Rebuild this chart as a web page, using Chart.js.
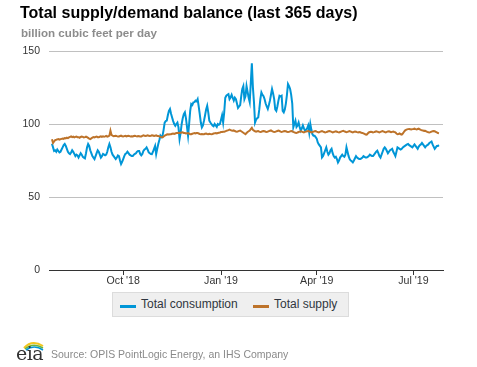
<!DOCTYPE html>
<html>
<head>
<meta charset="utf-8">
<script src="https://cdn.jsdelivr.net/npm/chart.js@4/dist/chart.umd.min.js"></script>
<style>
  html, body { margin: 0; padding: 0; background: #fff; }
  body { width: 477px; height: 367px; position: relative; overflow: hidden; font-family: "Liberation Sans", Arial, sans-serif; }
  #wrap { position: absolute; left: 0; top: 0; width: 477px; height: 367px; }
  #title { position: absolute; left: 20px; top: 4px; font-size: 16px; font-weight: bold; color: #000; white-space: nowrap; }
  #sub { position: absolute; left: 21px; top: 26px; font-size: 11.6px; font-weight: bold; color: #8c8c8c; white-space: nowrap; }
  #legend { position: absolute; left: 112px; top: 292px; width: 235px; height: 23px; background: #efefef; border: 1px solid #dcdcdc; }
  .li { position: absolute; top: 4px; font-size: 12px; color: #2f3640; white-space: nowrap; line-height: 15px; }
  .sw { position: absolute; top: 12px; height: 3px; width: 16px; }
  #src { position: absolute; left: 51px; top: 348px; font-size: 10.5px; color: #8a8a8a; white-space: nowrap; }
  #logo { position: absolute; left: 12px; top: 337px; width: 34px; height: 28px; }
  #logotext { position: absolute; left: 16px; top: 343px; font-family: "DejaVu Serif", "Liberation Serif", serif; font-size: 19px; color: #333; letter-spacing: -0.5px; line-height: 20px; }
</style>
</head>
<body>
<div id="wrap"><canvas id="c" width="477" height="367"></canvas></div>
<div id="title">Total supply/demand balance (last 365 days)</div>
<div id="sub">billion cubic feet per day</div>
<div id="legend">
  <div class="sw" style="left:7px;background:#0096d7"></div>
  <div class="li" style="left:28px">Total consumption</div>
  <div class="sw" style="left:140px;background:#bd732a"></div>
  <div class="li" style="left:161px">Total supply</div>
</div>
<svg id="logo" viewBox="0 0 34 28">
  <path d="M12 11 Q20 2 31 9" stroke="#f2c61f" stroke-width="2" fill="none"/>
  <path d="M13 12 Q21 5 31 11" stroke="#6cb33e" stroke-width="1.6" fill="none"/>
  <path d="M14 13 Q22 7 31 13" stroke="#0096d7" stroke-width="1.6" fill="none"/>
</svg>
<div id="logotext">eia</div>
<div id="src">Source: OPIS PointLogic Energy, an IHS Company</div>
<script>
// Day index 0 = Jul 26, 2018 (daily data, 365 days)
const tickDays = [67, 159, 249, 340];
const tickLabels = ["Oct '18", "Jan '19", "Apr '19", "Jul '19"];
const yTicks = [0, 50, 100, 150];

const consumption = [
  86.5, 84, 81.5, 82, 81, 82.5, 81.5, 80.5, 81, 82.5,
  84, 85.5, 86.3, 85, 83, 81, 80, 79.4, 80.5, 82,
  81, 79.5, 78, 79, 78.5, 77, 78.5, 80, 79, 77.5,
  77, 76.5, 80, 84, 86.3, 85, 82, 80, 78, 77,
  76, 78, 80, 82, 81, 79, 77, 78, 79.5, 79,
  78.5, 79, 81, 84, 86.3, 84, 81, 79, 78, 77,
  76, 77, 78.5, 78, 75, 72.6, 74, 76, 78, 79.5,
  80, 81, 80, 79, 78.5, 78, 78, 79, 79.5, 80,
  81, 81.5, 81.5, 79.5, 78.5, 79.5, 81.5, 82.5, 83, 84,
  82.5, 80.6, 80, 79.5, 79.4, 81, 83, 85, 79.4, 83,
  86.3, 89, 92, 91, 92, 96, 101, 102, 102.3, 106,
  109, 110.3, 107, 104.5, 102, 100, 98.8, 100, 101, 97.7,
  89.7, 94, 100, 104, 106.8, 108, 104, 98, 92, 100,
  109, 113.7, 113, 114.8, 115, 116, 115.5, 117, 112, 106.8,
  101, 97.7, 99, 102.3, 106, 110, 112.5, 108, 102.3, 101,
  100, 99, 98.5, 100, 99, 98, 100, 99.5, 100, 103,
  106, 101, 108, 118, 119.4, 120, 120.5, 117, 118.2, 120,
  118, 116, 118, 117, 114, 111, 112, 113, 119, 124,
  126, 117, 119, 126, 122, 118, 115, 128, 141.5, 125,
  115, 101, 103, 104, 104.5, 110, 117, 121.6, 120, 119,
  117, 114, 112, 110.3, 113, 116, 120, 124, 121, 117,
  110, 109, 112, 116, 119.4, 119, 119.4, 109, 108, 110,
  114, 120, 127.4, 126, 124, 120, 114, 97.7, 100, 102.3,
  98, 99, 101, 98, 95.4, 97, 99, 97, 95.4, 96,
  97, 99, 94, 100, 96, 93, 92, 92, 91, 90,
  87.4, 86, 85, 84, 77.1, 78, 80, 82, 84, 81,
  79, 80, 82, 83, 80, 78, 77, 77.5, 76, 73.7,
  75, 77, 78, 79, 78, 77.5, 79, 84, 81, 78,
  76, 75, 74.5, 73.7, 75, 76.5, 78, 77, 76.5, 76,
  76, 76.5, 77, 78, 77.5, 77, 77, 77.5, 78, 79,
  78.5, 78, 78, 79, 80, 81, 81.7, 80, 78, 77,
  79, 81, 83, 84, 83, 81.5, 80, 81, 82, 82.5,
  83, 81, 79.5, 78, 81, 84, 83.5, 83, 82.5, 83,
  84, 84.5, 85, 85.5, 86, 86.3, 85.5, 85, 84.5, 84,
  85, 86, 85, 84, 83, 84.5, 85.5, 86, 87, 86,
  85, 84, 85, 85.5, 86, 87, 87.5, 88, 86, 84.5,
  83, 84, 85, 85, 85.5
];

const supply = [
  89.5, 87, 88, 89, 89.2, 89.5, 89.7, 89.3, 89.6, 89.8,
  90, 89.8, 90.4, 90.2, 90.6, 90.3, 90.8, 91.2, 91.5, 91,
  91.3, 90.8, 91.2, 91.4, 91, 91, 90.6, 91.1, 91.4, 91.2,
  90.8, 91, 91.3, 91, 90.5, 90, 89.7, 90.2, 90.6, 91,
  90.8, 91.2, 91.4, 91, 91, 91.3, 91.6, 91.2, 91.5, 91.3,
  91.5, 91.8, 91.4, 91.6, 92, 95.4, 92.5, 92, 91.6, 91.8,
  92, 91.7, 91.5, 91.5, 91.8, 92, 91.6, 91.4, 91.7, 91.9,
  91.5, 91.8, 92, 91.7, 91.4, 91.6, 91.5, 91.8, 92, 91.7,
  91.5, 91.8, 91.6, 91.4, 91.5, 91.9, 92.2, 92, 91.8, 92,
  92.2, 92, 91.8, 92, 92.3, 92.1, 91.8, 92, 92.2, 91.8,
  91.8, 91.5, 91.2, 91, 90.8, 91.5, 92, 92.4, 92.8, 93,
  92.8, 93, 93, 93.3, 93.5, 93.2, 93.5, 93.8, 93.8, 94,
  93.8, 94, 94.2, 94.3, 93.8, 93.8, 93.5, 93.6, 93.8, 93.4,
  93, 93, 93.3, 93.6, 93.8, 93.5, 93.8, 93.8, 93.5, 93.2,
  93, 93.2, 93, 93, 93.3, 93.5, 93.2, 93, 93.3, 93.1,
  93, 93.2, 93.5, 93.6, 93.8, 93.5, 93.8, 94, 94.2, 94.5,
  94.5, 94.7, 94.7, 95, 95.3, 95.6, 95.8, 96.1, 95.8, 95.5,
  95.4, 95.6, 95.2, 94.9, 94.7, 95, 95.3, 95.5, 95, 94.5,
  94, 93.5, 93, 93.8, 94.5, 95, 95.5, 96.5, 97.4, 96,
  95.5, 95, 94.8, 95, 95.2, 94.8, 94.5, 94.7, 95, 95.2,
  95, 94.7, 94.5, 94.8, 95.1, 95.4, 95.6, 95.2, 94.8, 94.5,
  94.6, 94.9, 95.2, 95.5, 95.2, 94.8, 94.6, 94.8, 95, 95.2,
  95, 94.7, 94.5, 94.6, 94.9, 95.2, 95, 94.6, 94.3, 94,
  93.8, 94.2, 94.5, 94.8, 95, 94.8, 94.5, 94.3, 94.6, 94.8,
  95, 95.2, 94.9, 94.6, 94.3, 94.5, 94.8, 95, 95.2, 94.8,
  94.5, 94.3, 94.6, 94.9, 95.1, 94.8, 94.5, 94.2, 94.4, 94.7,
  95, 95.2, 94.9, 94.6, 94.3, 94.5, 94.8, 95, 94.7, 94.4,
  94.2, 94.5, 94.8, 95.1, 95.3, 95, 94.7, 94.4, 94.6, 94.9,
  95.1, 94.8, 94.5, 94.3, 94.6, 94.9, 94.7, 94.4, 94.2, 94.5,
  94.3, 94, 93.8, 93.6, 93.2, 92.8, 92.7, 93.5, 94.2, 94.5,
  94.7, 94.5, 94.2, 94.4, 94.7, 95, 94.8, 94.5, 94.3, 94.6,
  94.9, 95.1, 94.8, 94.5, 94.3, 94.6, 94.9, 95, 94.7, 94.4,
  94.6, 94.8, 94.5, 94.3, 93.5, 93, 93.2, 93.5, 93, 92.8,
  93.5, 94.5, 95.5, 96, 96.3, 96.5, 96.6, 96.4, 96.2, 96.5,
  96.6, 96.8, 96.5, 96.3, 96.6, 96.8, 96.4, 96, 95.7, 95.5,
  95.3, 95.4, 95, 94.6, 94.3, 94.2, 94.4, 94.8, 95, 95.2,
  95, 94.6, 94.2, 93.8, 93.6
];

const toXY = arr => arr.map((v, i) => ({ x: i, y: v }));

new Chart(document.getElementById('c'), {
  type: 'line',
  data: {
    datasets: [
      { label: 'Total supply', data: toXY(supply), borderColor: '#bd732a', borderWidth: 2, pointRadius: 0, tension: 0, fill: false },
      { label: 'Total consumption', data: toXY(consumption), borderColor: '#0096d7', borderWidth: 2, pointRadius: 0, tension: 0, fill: false }
    ]
  },
  options: {
    responsive: false,
    animation: false,
    events: [],
    layout: { padding: { left: 0, right: 34, top: 51, bottom: 75 } },
    plugins: { legend: { display: false }, tooltip: { enabled: false }, title: { display: false } },
    scales: {
      x: {
        type: 'linear',
        min: -2.8,
        max: 367.8,
        afterBuildTicks: s => { s.ticks = tickDays.map(v => ({ value: v })); },
        afterFit: s => { s.height = 22; },
        ticks: {
          autoSkip: false, maxRotation: 0, padding: 0,
          color: '#333', font: { family: '"Liberation Sans", Arial, sans-serif', size: 10.6 },
          callback: v => tickLabels[tickDays.indexOf(v)]
        },
        grid: { drawOnChartArea: false, drawTicks: true, tickLength: 5, color: '#333', lineWidth: 1 },
        border: { display: true, color: '#333', width: 1 }
      },
      y: {
        min: 0, max: 150,
        afterBuildTicks: s => { s.ticks = yTicks.map(v => ({ value: v })); },
        afterFit: s => { s.width = 49; },
        ticks: {
          padding: 9, color: '#333',
          font: { family: '"Liberation Sans", Arial, sans-serif', size: 10.5 }
        },
        grid: { drawTicks: false, color: c => c.tick && c.tick.value === 0 ? 'rgba(0,0,0,0)' : '#c0c0c0', lineWidth: 1 },
        border: { display: false }
      }
    }
  }
});
</script>
</body>
</html>
